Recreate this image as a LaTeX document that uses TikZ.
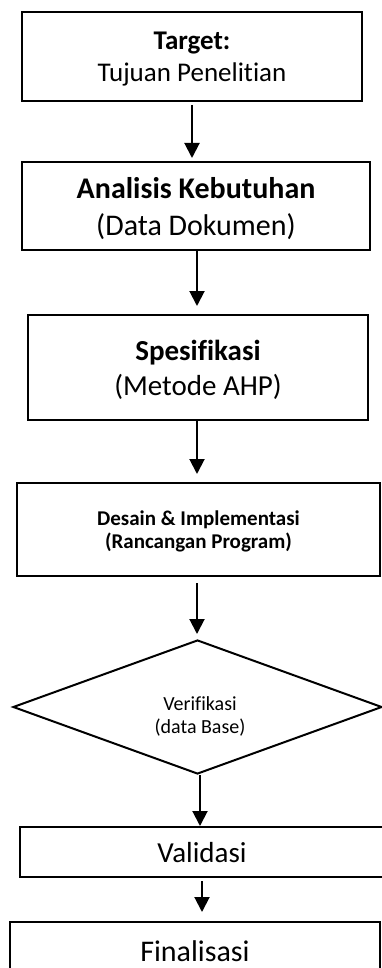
\documentclass[tikz,border=0pt]{standalone}
\usepackage{fontspec}
\setmainfont{Carlito}[Ligatures={NoCommon}]
\usetikzlibrary{arrows.meta,shapes.geometric}
\begin{document}
\begin{tikzpicture}[x=1pt,y=-1pt,
  box/.style={draw,line width=2pt,rectangle,inner sep=0pt,align=center,text depth=0pt},
  arr/.style={line width=2pt,-{Triangle[length=15pt,width=15pt]}}]
\useasboundingbox (0,0) rectangle (382,968);
\node[box,minimum width=340pt,minimum height=89pt,font=\fontsize{27}{32}\selectfont] (b1) at (192,56.5) {\textbf{Target:}\\Tujuan Penelitian};
\node[box,minimum width=348pt,minimum height=88pt,font=\fontsize{30}{37}\selectfont] (b2) at (196,206) {\textbf{Analisis Kebutuhan}\\(Data Dokumen)};
\node[box,minimum width=340pt,minimum height=105pt,font=\fontsize{29}{35}\selectfont] (b3) at (198,367.5) {\textbf{Spesifikasi}\\(Metode AHP)};
\node[box,minimum width=363pt,minimum height=93pt,font=\fontsize{21}{23}\selectfont\bfseries] (b4) at (198.5,529.5) {Desain \& Implementasi\\(Rancangan Program)};
\node[draw,diamond,line width=2pt,inner sep=0pt,minimum width=369pt,minimum height=134pt] (d) at (197.5,707) {};
\node[align=center,font=\fontsize{20}{23}\selectfont] (dt) at (200,716) {Verifikasi\\(data Base)};
\node[box,minimum width=364pt,minimum height=50pt,font=\fontsize{29}{35}\selectfont] (v) at (202,852) {Validasi};
\node[box,minimum width=370pt,minimum height=58pt,font=\fontsize{30}{36}\selectfont] (f) at (195,951) {Finalisasi};
\draw[arr,shorten <=3pt,shorten >=3pt] (b1.south) -- (b1.south |- b2.north);
\draw[arr,shorten >=8pt] ([xshift=1pt]b2.south) -- ([xshift=1pt]b2.south |- b3.north);
\draw[arr,shorten >=8pt] ([xshift=-1pt]b3.south) -- ([xshift=-1pt]b3.south |- b4.north);
\draw[arr,shorten <=6pt,shorten >=5pt] ([xshift=-1.5pt]b4.south) -- ([xshift=-1.5pt]b4.south |- d.north);
\draw[arr] ([xshift=2.5pt]d.south) -- ([xshift=2.5pt]d.south |- v.north);
\draw[arr,shorten <=3pt,shorten >=9pt] (v.south) -- (v.south |- f.north);
\end{tikzpicture}
\end{document}
